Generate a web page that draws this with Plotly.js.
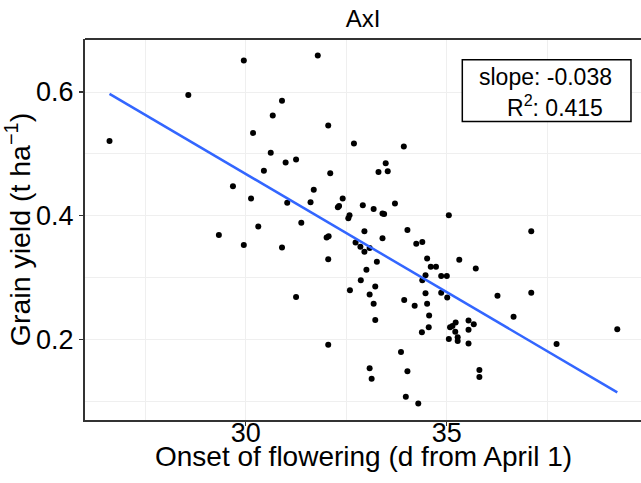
<!DOCTYPE html>
<html>
<head>
<meta charset="utf-8">
<script src="https://cdn.plot.ly/plotly-3.0.1.min.js"></script>
<style>html,body{margin:0;padding:0;background:#fff;}#chart{width:641px;height:483px;}</style>
</head>
<body>
<div id="chart"></div>
<script>
// Onset of flowering (d from April 1)
var onset = [26.61,28.57,29.95,30.67,30.90,30.18,30.62,30.45,29.68,30.13,
  30.31,29.33,29.95,30.90,31.25,31.79,32.05,32.69,33.93,30.99,
  31.25,32.10,33.48,33.30,33.53,31.69,31.03,31.61,32.41,32.29,
  32.32,32.91,33.18,33.40,33.44,33.71,35.05,31.38,32.58,32.55,
  32.01,32.06,32.05,32.05,32.59,32.73,32.85,32.95,32.95,33.08,
  32.86,33.00,33.08,33.22,33.18,33.22,33.26,33.40,33.08,33.13,
  33.86,33.98,34.29,34.02,33.94,34.20,34.02,34.24,34.39,34.51,
  34.60,34.73,34.47,34.39,34.47,34.51,34.56,34.55,34.38,34.86,
  35.00,34.86,35.01,35.31,35.08,35.14,35.22,35.21,35.05,35.27,
  35.27,35.54,35.67,35.54,35.54,35.81,35.81,35.72,36.26,37.10,
  37.10,36.66,39.24,37.73];
// Grain yield (t/ha)
var grainYield = [0.521,0.595,0.651,0.562,0.586,0.534,0.502,0.473,0.448,0.428,
  0.383,0.369,0.353,0.349,0.269,0.659,0.546,0.517,0.512,0.486,
  0.491,0.469,0.485,0.471,0.472,0.442,0.421,0.422,0.428,0.414,
  0.416,0.417,0.411,0.404,0.403,0.420,0.401,0.389,0.401,0.396,
  0.365,0.367,0.330,0.192,0.280,0.357,0.350,0.375,0.342,0.348,
  0.296,0.313,0.273,0.286,0.258,0.232,0.326,0.364,0.154,0.137,
  0.180,0.108,0.097,0.149,0.264,0.255,0.377,0.355,0.358,0.331,
  0.318,0.318,0.304,0.296,0.275,0.258,0.239,0.220,0.212,0.303,
  0.303,0.276,0.268,0.329,0.220,0.222,0.228,0.213,0.201,0.204,
  0.198,0.231,0.225,0.216,0.194,0.151,0.140,0.315,0.271,0.375,
  0.276,0.237,0.217,0.193];
// fitted line end points
var fitX = [26.61, 39.24];
var fitY = [0.597, 0.115];
var xTicks = [30, 35];
var yTicks = [0.2, 0.4, 0.6];
var xTitle = "Onset of flowering (d from April 1)";
var yTitle = "Grain yield (t ha<sup>\u22121</sup>)";
var slopeText = "slope: -0.038";
var r2Text = "R<sup>2</sup>: 0.415";

var FONT = "Liberation Sans, Arial, Helvetica, sans-serif";
var traces = [
  {x: onset, y: grainYield, type: "scatter", mode: "markers",
   marker: {color: "#000000", size: 6}, hoverinfo: "x+y"},
  {x: fitX, y: fitY, type: "scatter", mode: "lines",
   line: {color: "#3366FF", width: 2.5}}
];
var gridc = "#EFEFEF";
var layout = {
  width: 641, height: 483,
  margin: {l: 85, r: 0, t: 39, b: 63},
  paper_bgcolor: "#ffffff", plot_bgcolor: "#ffffff",
  showlegend: false,
  font: {family: FONT, color: "#000000"},
  title: {text: "AxI", font: {size: 24, color: "#000000", family: FONT},
          x: 0.5, xref: "paper", xanchor: "center", y: 0.962, yanchor: "middle"},
  xaxis: {
    range: [26.0, 39.83], tickvals: xTicks, ticktext: xTicks.map(String),
    showgrid: true, gridcolor: gridc, gridwidth: 1,
    minor: {tickvals: [27.5, 32.5, 37.5], showgrid: true, gridcolor: gridc, gridwidth: 1, ticks: ""},
    zeroline: false, showline: true, linecolor: "#333333", linewidth: 2,
    ticks: "outside", ticklen: 4, tickcolor: "#333333", tickwidth: 1.2,
    tickfont: {size: 27, color: "#000000", family: FONT},
    ticklabelposition: "outside", ticklabelstandoff: -16
  },
  yaxis: {
    range: [0.0704, 0.6856], tickvals: yTicks, ticktext: ["0.2", "0.4", "0.6"],
    showgrid: true, gridcolor: gridc, gridwidth: 1,
    minor: {tickvals: [0.1, 0.3, 0.5], showgrid: true, gridcolor: gridc, gridwidth: 1, ticks: ""},
    zeroline: false, showline: true, linecolor: "#333333", linewidth: 2,
    ticks: "outside", ticklen: 4, tickcolor: "#333333", tickwidth: 1.2,
    tickfont: {size: 27, color: "#000000", family: FONT},
    title: {text: yTitle, font: {size: 28.5, color: "#000000", family: FONT}, standoff: 10}
  },
  shapes: [
    {type: "line", xref: "paper", yref: "paper", x0: 0, x1: 1, y0: 1, y1: 1,
     line: {color: "#333333", width: 2}},
    {type: "rect", xref: "paper", yref: "paper", x0: 0.6786, x1: 0.982, y0: 0.7837, y1: 0.9457,
     line: {color: "#000000", width: 1.5}, fillcolor: "#ffffff", layer: "above"}
  ],
  annotations: [
    {text: xTitle, xref: "paper", yref: "paper", x: 0.5, y: -0.0963, xanchor: "center", yanchor: "middle",
     showarrow: false, font: {size: 28, color: "#000000", family: FONT}},
    {text: slopeText, xref: "paper", yref: "paper", x: 0.829, y: 0.900, xanchor: "center", yanchor: "middle",
     showarrow: false, font: {size: 23, color: "#000000", family: FONT}},
    {text: r2Text, xref: "paper", yref: "paper", x: 0.846, y: 0.823, xanchor: "center", yanchor: "middle",
     showarrow: false, font: {size: 23, color: "#000000", family: FONT}}
  ]
};
Plotly.newPlot("chart", traces, layout, {staticPlot: true, displayModeBar: false});
</script>
</body>
</html>
